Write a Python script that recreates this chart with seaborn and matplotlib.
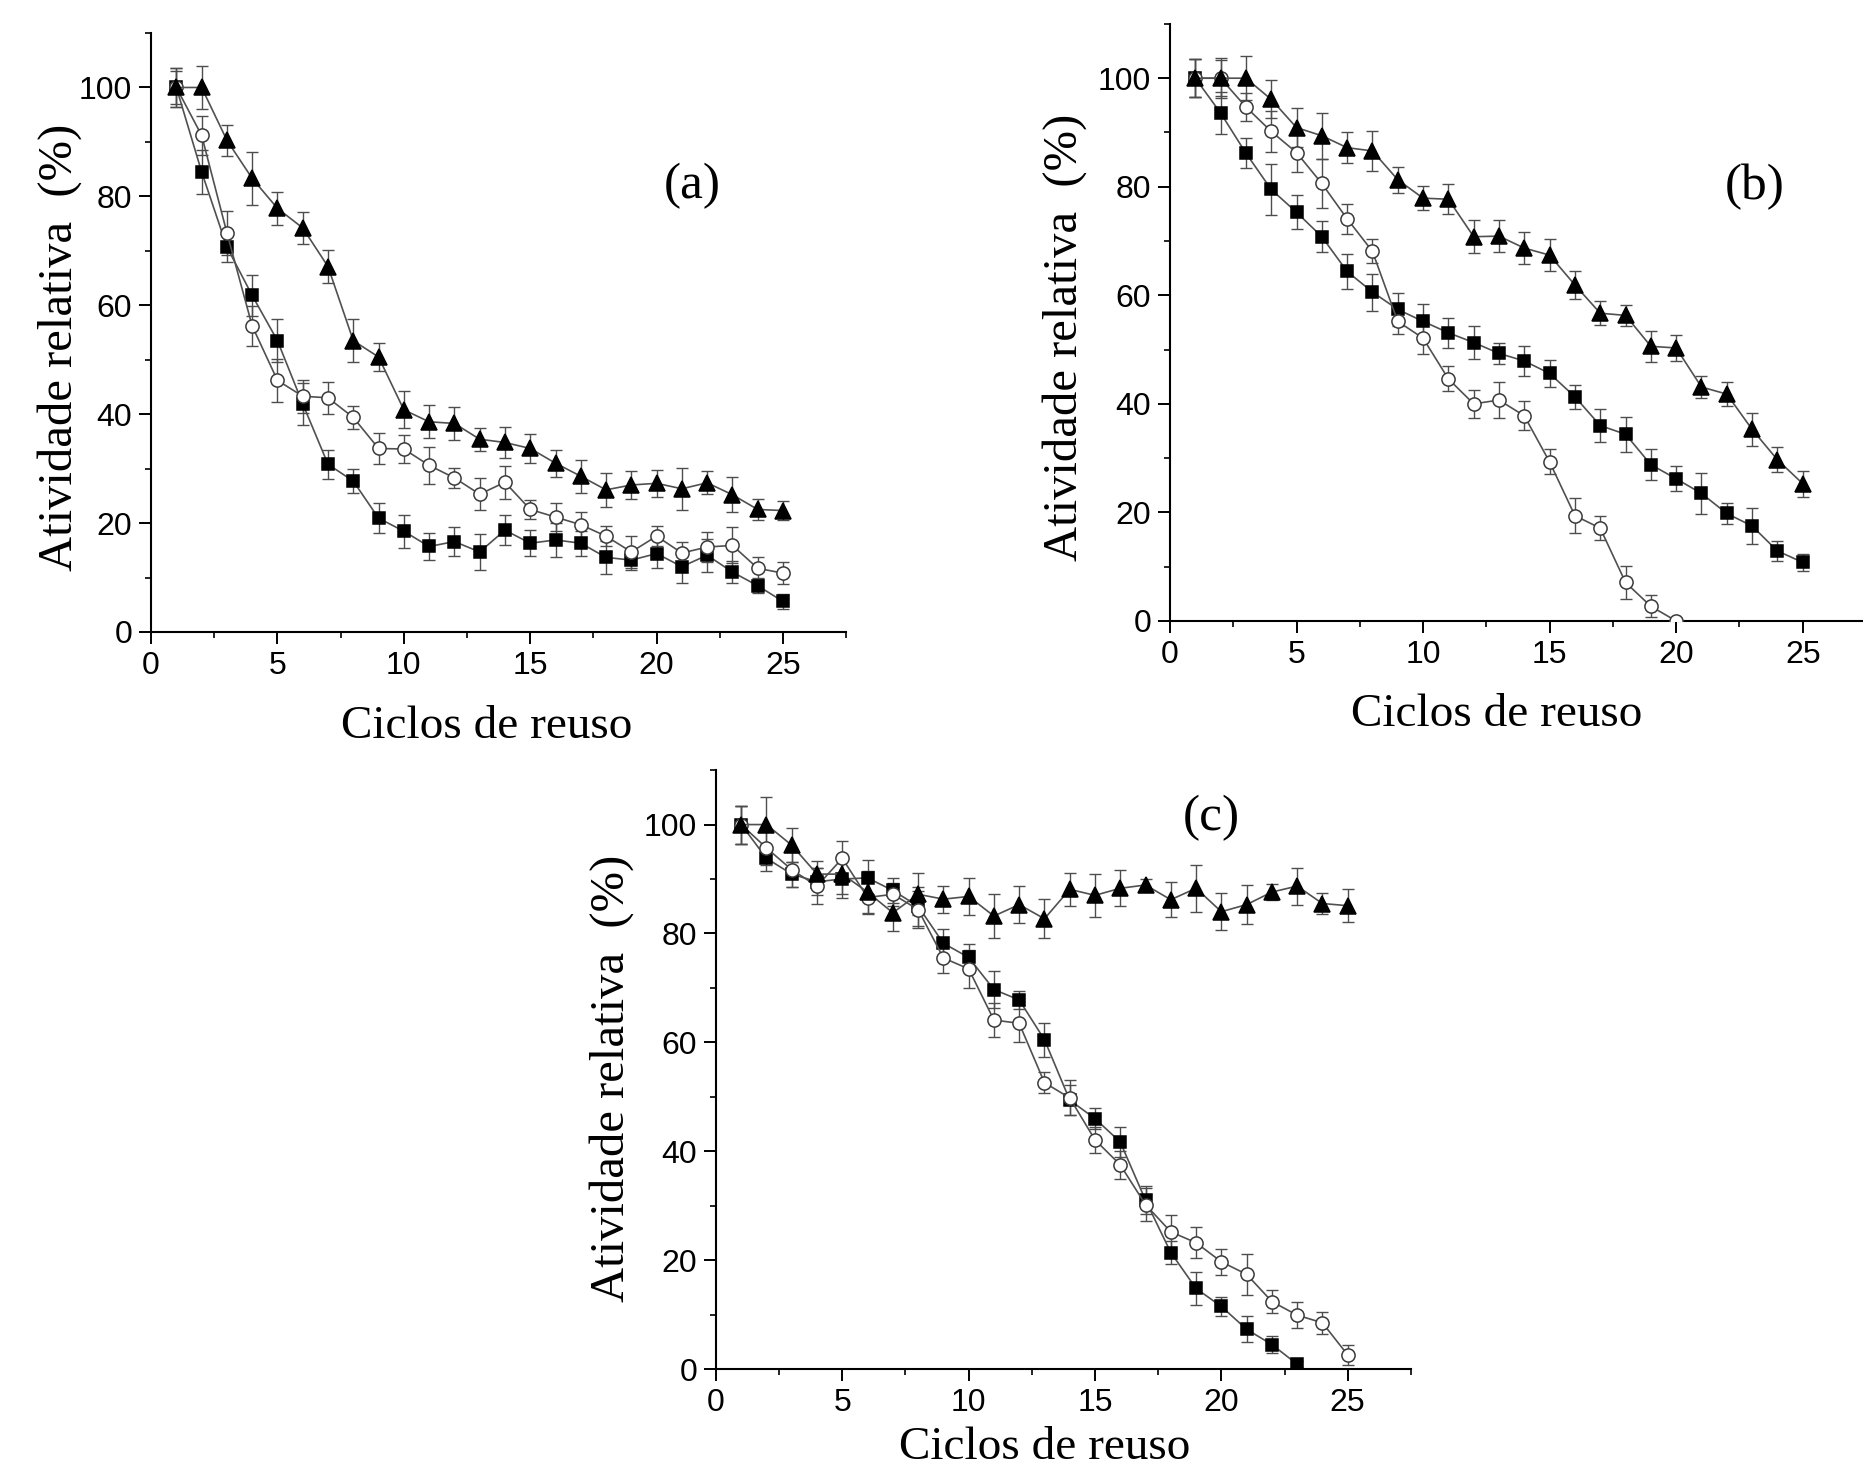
import numpy as np
import pandas as pd
import matplotlib
matplotlib.use("Agg")
import matplotlib.pyplot as plt
from matplotlib.ticker import MultipleLocator
import seaborn as sns

ciclos = list(range(1, 26))

# painel (a)
a_quad = [100, 84.5, 70.7, 61.8, 53.5, 41.9, 30.8, 27.7, 20.9, 18.5, 15.7, 16.6, 14.7,
          18.7, 16.3, 16.9, 16.3, 13.7, 13.2, 14.4, 12.0, 14.1, 11.0, 8.5, 5.6]
a_quad_err = [3.0, 4.0, 2.7, 3.8, 4.0, 3.8, 2.7, 2.2, 2.8, 3.0, 2.5, 2.6, 3.3,
              2.7, 2.4, 3.2, 2.3, 3.0, 1.8, 2.7, 3.0, 3.0, 2.0, 1.4, 1.3]
a_circ = [100, 91.2, 73.3, 56.2, 46.2, 43.3, 43.0, 39.4, 33.7, 33.6, 30.6, 28.3, 25.3,
          27.5, 22.5, 21.1, 19.7, 17.6, 14.7, 17.6, 14.5, 15.6, 15.9, 11.7, 10.8]
a_circ_err = [3.5, 3.6, 4.1, 3.7, 3.9, 3.0, 2.9, 2.1, 2.8, 2.5, 3.4, 1.9, 2.9,
              3.0, 1.8, 2.6, 2.4, 1.9, 2.9, 1.8, 2.0, 2.7, 3.3, 2.0, 2.0]
a_tri = [100, 100, 90.3, 83.3, 77.8, 74.2, 67.1, 53.5, 50.5, 40.8, 38.6, 38.3, 35.4,
         34.8, 33.7, 31.0, 28.6, 26.1, 27.0, 27.3, 26.3, 27.4, 25.2, 22.5, 22.3]
a_tri_err = [3.5, 4.0, 2.8, 4.8, 3.0, 2.9, 3.0, 4.0, 2.6, 3.4, 3.0, 3.1, 2.1,
             2.9, 2.6, 2.5, 3.0, 3.1, 2.5, 2.5, 3.9, 2.1, 3.2, 2.0, 1.8]

# painel (b)
b_quad = [100, 93.6, 86.2, 79.5, 75.3, 70.8, 64.4, 60.6, 57.4, 55.2, 53.1, 51.3, 49.3,
          47.9, 45.6, 41.3, 36.0, 34.4, 28.8, 26.2, 23.5, 19.8, 17.5, 12.9, 10.8]
b_quad_err = [3.5, 3.8, 2.8, 4.7, 3.1, 2.9, 3.2, 3.4, 3.0, 3.2, 2.8, 3.0, 1.9,
              2.8, 2.5, 2.2, 3.0, 3.2, 2.8, 2.3, 3.8, 2.0, 3.3, 1.9, 1.6]
b_circ = [100, 100, 94.7, 90.2, 86.3, 80.6, 74.1, 68.1, 55.2, 52.1, 44.6, 40.0, 40.7,
          37.8, 29.3, 19.4, 17.1, 7.1, 2.7, 0.0]
b_circ_err = [3.5, 3.3, 2.6, 3.8, 3.5, 4.5, 2.8, 2.2, 2.3, 2.9, 2.3, 2.6, 3.3,
              2.7, 2.3, 3.2, 2.2, 3.1, 2.0, 0.5]
b_tri = [100, 100, 100, 96.1, 90.9, 89.4, 87.2, 86.6, 81.3, 77.9, 77.7, 70.8, 70.9,
         68.7, 67.4, 61.9, 56.7, 56.3, 50.6, 50.3, 43.1, 41.8, 35.3, 29.7, 25.3]
b_tri_err = [3.5, 3.7, 4.1, 3.5, 3.6, 4.2, 2.8, 3.7, 2.4, 2.2, 2.8, 3.0, 3.0,
             2.9, 2.9, 2.6, 2.2, 2.0, 2.9, 2.4, 2.1, 2.2, 3.0, 2.3, 2.4]

# painel (c)
c_quad = [100, 93.8, 90.9, 89.5, 90.0, 90.2, 87.9, 85.0, 78.2, 75.6, 69.7, 67.8, 60.5,
          49.4, 46.0, 41.7, 31.0, 21.4, 14.8, 11.5, 7.3, 4.5, 0.9]
c_quad_err = [3.5, 2.3, 2.3, 2.5, 3.4, 3.2, 2.3, 3.6, 2.6, 2.5, 3.4, 1.7, 3.1,
              2.8, 2.0, 2.8, 2.6, 2.1, 3.0, 1.8, 2.4, 1.5, 0.5]
c_circ = [100, 95.7, 91.7, 88.7, 93.8, 86.6, 87.2, 84.4, 75.5, 73.5, 64.1, 63.5, 52.6,
          49.8, 42.1, 37.5, 30.2, 25.2, 23.2, 19.7, 17.4, 12.4, 9.9, 8.5, 2.6]
c_circ_err = [3.5, 3.1, 3.2, 3.3, 3.1, 3.1, 2.1, 3.4, 2.8, 3.5, 3.1, 3.4, 1.9,
              3.2, 2.4, 2.6, 3.0, 3.1, 2.8, 2.4, 3.8, 2.1, 2.4, 2.0, 1.8]
c_tri = [100, 100, 96.2, 90.9, 90.9, 87.6, 83.8, 87.2, 86.3, 86.8, 83.2, 85.3, 82.7,
         88.1, 87.0, 88.3, 88.9, 86.2, 88.3, 84.0, 85.3, 87.6, 88.7, 85.5, 85.1]
c_tri_err = [3.5, 5.0, 3.1, 2.4, 3.6, 3.8, 3.4, 3.9, 2.5, 3.4, 4.0, 3.4, 3.6,
             3.0, 3.9, 3.3, 1.1, 3.2, 4.3, 3.4, 3.6, 1.5, 3.4, 2.0, 3.0]

sns.set_theme(style="ticks")
plt.rcParams['font.family'] = ['Liberation Sans', 'DejaVu Sans']

SERIF = 'Liberation Serif'
LINE = '#505050'
ERR = '#4d4d4d'


def painel(ax, series, letra, letra_xy, ylab_xy, xlab_xy, xmax=27.5):
    for vals, errs, mk, fc, ec, ms in series:
        x = ciclos[:len(vals)]
        ax.errorbar(x, vals, yerr=errs, fmt='none', ecolor=ERR, elinewidth=1.0,
                    capsize=4.2, capthick=1.0, zorder=2)
        sns.lineplot(x=x, y=vals, ax=ax, color=LINE, linewidth=1.2, marker=mk,
                     markersize=ms, markerfacecolor=fc, markeredgecolor=ec,
                     markeredgewidth=1.1, zorder=3)
    ax.set_xlim(0, xmax)
    ax.set_ylim(0, 110)
    ax.set_xticks([0, 5, 10, 15, 20, 25])
    ax.set_yticks([0, 20, 40, 60, 80, 100])
    ax.xaxis.set_minor_locator(MultipleLocator(2.5))
    ax.yaxis.set_minor_locator(MultipleLocator(10))
    ax.tick_params(which='major', length=8.5, width=1.4, labelsize=23, pad=5,
                   direction='out', color='black', labelcolor='black')
    ax.tick_params(which='minor', length=4.5, width=1.2, direction='out', color='black')
    for s in ['left', 'bottom']:
        ax.spines[s].set_linewidth(1.5)
        ax.spines[s].set_color('black')
    sns.despine(ax=ax)
    ax.set_xlabel('Ciclos de reuso', family=SERIF, fontsize=34, color='black')
    ax.set_ylabel('Atividade relativa  (%)', family=SERIF, fontsize=35, color='black')
    ax.xaxis.set_label_coords(*xlab_xy)
    ax.yaxis.set_label_coords(*ylab_xy)
    ax.text(letra_xy[0], letra_xy[1], letra, family=SERIF, fontsize=37,
            ha='center', va='center', color='black')


fig = plt.figure(figsize=(18.63, 14.68), dpi=100)
ax_a = fig.add_axes([0.0811, 0.5695, 0.3731, 0.408])
ax_b = fig.add_axes([0.628, 0.577, 0.3736, 0.4067])
ax_c = fig.add_axes([0.3843, 0.0674, 0.373, 0.408])

quad = ('s', 'black', 'black', 8.5)
circ = ('o', 'white', '#3a3a3a', 9.5)
tri = ('^', 'black', 'black', 12)

painel(ax_a, [(a_quad, a_quad_err) + quad, (a_circ, a_circ_err) + circ,
              (a_tri, a_tri_err) + tri],
       '(a)', (21.4, 82), (-0.1, 0.475), (0.483, -0.122))
painel(ax_b, [(b_quad, b_quad_err) + quad, (b_circ, b_circ_err) + circ,
              (b_tri, b_tri_err) + tri],
       '(b)', (23.1, 80), (-0.119, 0.475), (0.47, -0.122))
painel(ax_c, [(c_quad, c_quad_err) + quad, (c_circ, c_circ_err) + circ,
              (c_tri, c_tri_err) + tri],
       '(c)', (19.6, 101.3), (-0.118, 0.485), (0.473, -0.096))

fig.savefig('out.png', dpi=100, facecolor='white')
